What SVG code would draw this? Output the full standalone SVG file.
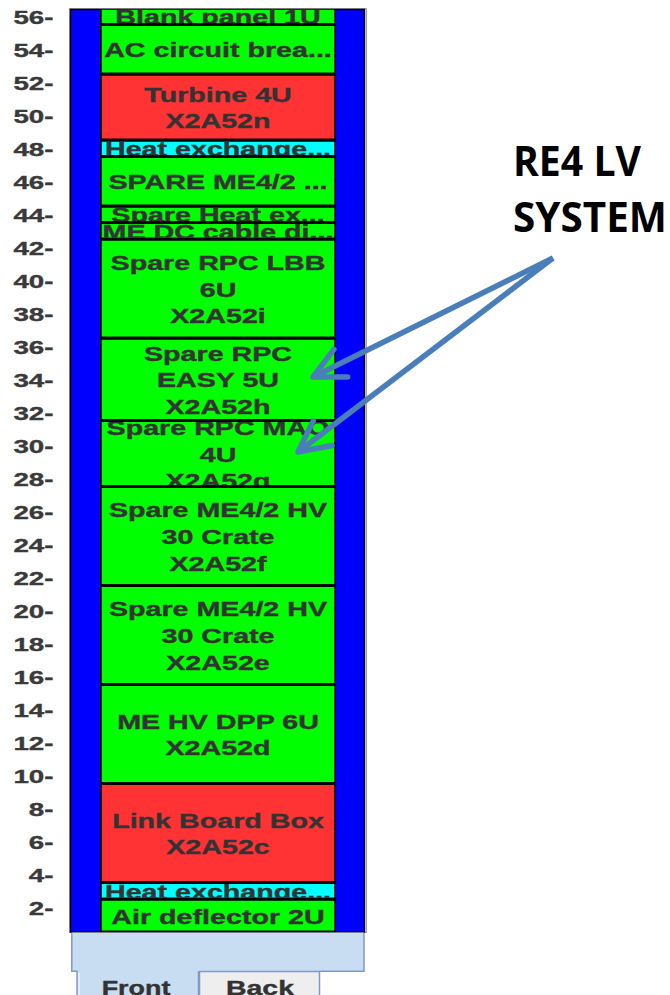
<svg xmlns="http://www.w3.org/2000/svg" width="670" height="995" viewBox="0 0 670 995">
<style>
.g{fill:#00ff00}.r{fill:#ff3333}.c{fill:#00ffff}
.t{font-family:"Liberation Sans",Arial,sans-serif;font-weight:bold;font-size:19.5px;fill:#333333;stroke:#333333;stroke-width:0.35;text-anchor:middle}
.s{font-family:"Liberation Sans",Arial,sans-serif;font-weight:bold;font-size:19px;fill:#3a3a3a;stroke:#3a3a3a;stroke-width:0.35;text-anchor:end}
.big{font-family:"Open Sans","Liberation Sans",sans-serif;font-weight:bold;font-size:41px;fill:#000000}
.arr{fill:none;stroke:#4a7ebb;stroke-width:5.5}
.tb{stroke:#7f9ac6;stroke-width:1.5}
</style>
<defs>
<marker id="ah" markerUnits="userSpaceOnUse" orient="auto" refX="0" refY="0" markerWidth="1" markerHeight="1" overflow="visible">
<path d="M-31,-15.5 L0,0 L-31,15.5" fill="none" stroke="#4a7ebb" stroke-width="5.5" stroke-linejoin="round" stroke-linecap="round"/>
</marker>
<clipPath id="k1"><rect x="101.5" y="9.5" width="233" height="13.7"/></clipPath>
<clipPath id="k2"><rect x="101.5" y="26" width="233" height="46.7"/></clipPath>
<clipPath id="k3"><rect x="101.5" y="75.5" width="233" height="63.2"/></clipPath>
<clipPath id="k4"><rect x="101.5" y="141.5" width="233" height="13.7"/></clipPath>
<clipPath id="k5"><rect x="101.5" y="158" width="233" height="46.7"/></clipPath>
<clipPath id="k6"><rect x="101.5" y="207.5" width="233" height="13.7"/></clipPath>
<clipPath id="k7"><rect x="101.5" y="224" width="233" height="13.7"/></clipPath>
<clipPath id="k8"><rect x="101.5" y="240.5" width="233" height="96.2"/></clipPath>
<clipPath id="k9"><rect x="101.5" y="339.5" width="233" height="79.7"/></clipPath>
<clipPath id="k10"><rect x="101.5" y="422" width="233" height="63.2"/></clipPath>
<clipPath id="k11"><rect x="101.5" y="488" width="233" height="96.2"/></clipPath>
<clipPath id="k12"><rect x="101.5" y="587" width="233" height="96.2"/></clipPath>
<clipPath id="k13"><rect x="101.5" y="686" width="233" height="96.2"/></clipPath>
<clipPath id="k14"><rect x="101.5" y="785" width="233" height="96.2"/></clipPath>
<clipPath id="k15"><rect x="101.5" y="884" width="233" height="13.7"/></clipPath>
<clipPath id="k16"><rect x="101.5" y="900.5" width="233" height="30.2"/></clipPath>
</defs>
<rect width="670" height="995" fill="#ffffff"/>
<g id="scale">
<text class="s" transform="translate(53.5 23.55) scale(1.46 1)">56-</text>
<text class="s" transform="translate(53.5 56.55) scale(1.46 1)">54-</text>
<text class="s" transform="translate(53.5 89.55) scale(1.46 1)">52-</text>
<text class="s" transform="translate(53.5 122.55) scale(1.46 1)">50-</text>
<text class="s" transform="translate(53.5 155.55) scale(1.46 1)">48-</text>
<text class="s" transform="translate(53.5 188.55) scale(1.46 1)">46-</text>
<text class="s" transform="translate(53.5 221.55) scale(1.46 1)">44-</text>
<text class="s" transform="translate(53.5 254.55) scale(1.46 1)">42-</text>
<text class="s" transform="translate(53.5 287.55) scale(1.46 1)">40-</text>
<text class="s" transform="translate(53.5 320.55) scale(1.46 1)">38-</text>
<text class="s" transform="translate(53.5 353.55) scale(1.46 1)">36-</text>
<text class="s" transform="translate(53.5 386.55) scale(1.46 1)">34-</text>
<text class="s" transform="translate(53.5 419.55) scale(1.46 1)">32-</text>
<text class="s" transform="translate(53.5 452.55) scale(1.46 1)">30-</text>
<text class="s" transform="translate(53.5 485.55) scale(1.46 1)">28-</text>
<text class="s" transform="translate(53.5 518.55) scale(1.46 1)">26-</text>
<text class="s" transform="translate(53.5 551.55) scale(1.46 1)">24-</text>
<text class="s" transform="translate(53.5 584.55) scale(1.46 1)">22-</text>
<text class="s" transform="translate(53.5 617.55) scale(1.46 1)">20-</text>
<text class="s" transform="translate(53.5 650.55) scale(1.46 1)">18-</text>
<text class="s" transform="translate(53.5 683.55) scale(1.46 1)">16-</text>
<text class="s" transform="translate(53.5 716.55) scale(1.46 1)">14-</text>
<text class="s" transform="translate(53.5 749.55) scale(1.46 1)">12-</text>
<text class="s" transform="translate(53.5 782.55) scale(1.46 1)">10-</text>
<text class="s" transform="translate(53.5 815.55) scale(1.46 1)">8-</text>
<text class="s" transform="translate(53.5 848.55) scale(1.46 1)">6-</text>
<text class="s" transform="translate(53.5 881.55) scale(1.46 1)">4-</text>
<text class="s" transform="translate(53.5 914.55) scale(1.46 1)">2-</text>
</g>
<g id="rack">
<rect x="69.5" y="8.5" width="297" height="924" fill="none" stroke="#a0a0a0" stroke-width="1"/>
<rect x="70.5" y="9.5" width="294" height="922.5" fill="#0000ff" stroke="#000000" stroke-width="1.5"/>
<rect x="100" y="9" width="236" height="923.5" fill="#000000"/>
</g>
<g id="tabs">
<rect x="71.5" y="932.5" width="292.5" height="39" fill="#c8ddf2"/>
<rect x="77" y="970" width="121.5" height="26" fill="#c8ddf2"/>
<path class="tb" fill="none" d="M71.8,933 V971.3 H77 V995 M198.5,995 V971.3 M364,933 V971.3 H319.5"/>
<rect class="tb" x="199.5" y="971.5" width="120" height="30" fill="#eeeeee"/>
<path d="M79,973 V995" stroke="#ffffff" stroke-width="1"/>
<text class="t" transform="translate(136 995) scale(1.38 1)">Front</text>
<text class="t" transform="translate(260 995) scale(1.46 1)">Back</text>
</g>
<g id="m1" clip-path="url(#k1)"><rect class="g" x="101.5" y="9.5" width="233" height="13.7"/><text class="t" transform="translate(218 24.25) scale(1.47 1)">Blank panel 1U</text></g>
<g id="m2" clip-path="url(#k2)"><rect class="g" x="101.5" y="26" width="233" height="46.7"/><text class="t" transform="translate(218 57.25) scale(1.47 1)">AC circuit brea...</text></g>
<g id="m3" clip-path="url(#k3)"><rect class="r" x="101.5" y="75.5" width="233" height="63.2"/><text class="t" transform="translate(218 101.7) scale(1.47 1)">Turbine 4U</text><text class="t" transform="translate(218 128.3) scale(1.47 1)">X2A52n</text></g>
<g id="m4" clip-path="url(#k4)"><rect class="c" x="101.5" y="141.5" width="233" height="13.7"/><text class="t" transform="translate(218 156.25) scale(1.47 1)">Heat exchange...</text></g>
<g id="m5" clip-path="url(#k5)"><rect class="g" x="101.5" y="158" width="233" height="46.7"/><text class="t" transform="translate(218 189.25) scale(1.47 1)">SPARE ME4/2 ...</text></g>
<g id="m6" clip-path="url(#k6)"><rect class="g" x="101.5" y="207.5" width="233" height="13.7"/><text class="t" transform="translate(218 222.25) scale(1.47 1)">Spare Heat ex...</text></g>
<g id="m7" clip-path="url(#k7)"><rect class="g" x="101.5" y="224" width="233" height="13.7"/><text class="t" transform="translate(218 238.75) scale(1.47 1)">ME DC cable di...</text></g>
<g id="m8" clip-path="url(#k8)"><rect class="g" x="101.5" y="240.5" width="233" height="96.2"/><text class="t" transform="translate(218 269.9) scale(1.47 1)">Spare RPC LBB</text><text class="t" transform="translate(218 296.5) scale(1.47 1)">6U</text><text class="t" transform="translate(218 323.1) scale(1.47 1)">X2A52i</text></g>
<g id="m9" clip-path="url(#k9)"><rect class="g" x="101.5" y="339.5" width="233" height="79.7"/><text class="t" transform="translate(218 360.65) scale(1.47 1)">Spare RPC</text><text class="t" transform="translate(218 387.25) scale(1.47 1)">EASY 5U</text><text class="t" transform="translate(218 413.85) scale(1.47 1)">X2A52h</text></g>
<g id="m10" clip-path="url(#k10)"><rect class="g" x="101.5" y="422" width="233" height="63.2"/><text class="t" transform="translate(218 434.9) scale(1.47 1)">Spare RPC MAO</text><text class="t" transform="translate(218 461.5) scale(1.47 1)">4U</text><text class="t" transform="translate(218 488.1) scale(1.47 1)">X2A52g</text></g>
<g id="m11" clip-path="url(#k11)"><rect class="g" x="101.5" y="488" width="233" height="96.2"/><text class="t" transform="translate(218 517.4) scale(1.47 1)">Spare ME4/2 HV</text><text class="t" transform="translate(218 544) scale(1.47 1)">30 Crate</text><text class="t" transform="translate(218 570.6) scale(1.47 1)">X2A52f</text></g>
<g id="m12" clip-path="url(#k12)"><rect class="g" x="101.5" y="587" width="233" height="96.2"/><text class="t" transform="translate(218 616.4) scale(1.47 1)">Spare ME4/2 HV</text><text class="t" transform="translate(218 643) scale(1.47 1)">30 Crate</text><text class="t" transform="translate(218 669.6) scale(1.47 1)">X2A52e</text></g>
<g id="m13" clip-path="url(#k13)"><rect class="g" x="101.5" y="686" width="233" height="96.2"/><text class="t" transform="translate(218 728.7) scale(1.47 1)">ME HV DPP 6U</text><text class="t" transform="translate(218 755.3) scale(1.47 1)">X2A52d</text></g>
<g id="m14" clip-path="url(#k14)"><rect class="r" x="101.5" y="785" width="233" height="96.2"/><text class="t" transform="translate(218 827.7) scale(1.47 1)">Link Board Box</text><text class="t" transform="translate(218 854.3) scale(1.47 1)">X2A52c</text></g>
<g id="m15" clip-path="url(#k15)"><rect class="c" x="101.5" y="884" width="233" height="13.7"/><text class="t" transform="translate(218 898.75) scale(1.47 1)">Heat exchange...</text></g>
<g id="m16" clip-path="url(#k16)"><rect class="g" x="101.5" y="900.5" width="233" height="30.2"/><text class="t" transform="translate(218 923.5) scale(1.47 1)">Air deflector 2U</text></g>
<g id="label">
<text class="big" x="513" y="175.7" textLength="128" lengthAdjust="spacingAndGlyphs">RE4 LV</text>
<text class="big" x="513" y="231.7" textLength="154" lengthAdjust="spacingAndGlyphs">SYSTEM</text>
</g>
<g id="connectors">
<path class="arr" d="M553,258 L313,377" marker-end="url(#ah)"/>
<path class="arr" d="M553,258 L298,452" marker-end="url(#ah)"/>
</g>
</svg>
